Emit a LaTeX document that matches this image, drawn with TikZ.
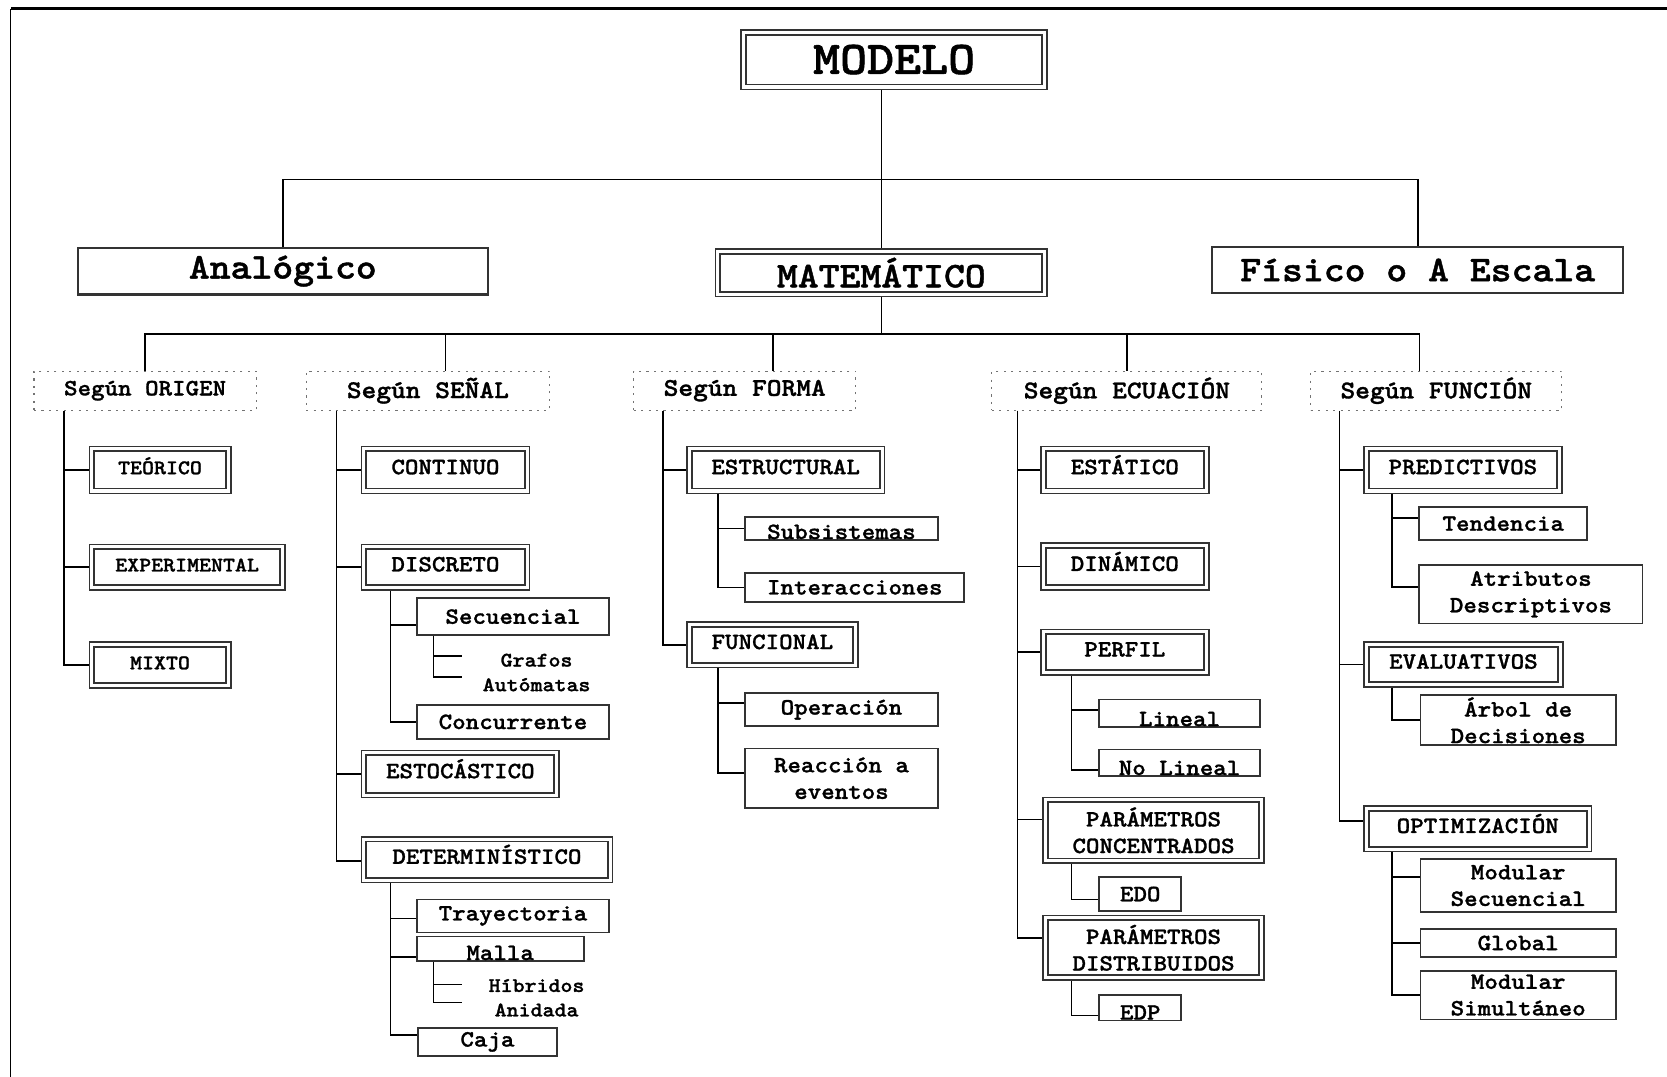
\documentclass[tikz,border=0pt]{standalone}
\usepackage{fontspec}
\newfontfamily\cour{lmmonolt10-bold.otf}[FakeStretch=1.1,FakeBold=1.2]
\usepackage{tikz}
\usetikzlibrary{positioning,calc}

\begin{document}
\begin{tikzpicture}[x=1pt,y=-1pt]
  \tikzset{
    % double frame: outer line and an inner line drawn as path picture
    dbox/.style={draw=black!80, line width=1.5pt, inner sep=0pt,
      path picture={\draw[line width=1.8pt]
        ([shift={(4.5pt,4.5pt)}]path picture bounding box.south west) rectangle
        ([shift={(-4.5pt,-4.5pt)}]path picture bounding box.north east);}},
    sbox/.style={draw=black!80, line width=1.6pt, inner sep=0pt},
    tbox/.style={draw=black!55, line width=1pt, dash pattern=on 2pt off 5pt, inner sep=0pt},
    sz/.style 2 args={minimum width=#1, minimum height=#2},
    caps/.style={text height=8pt, text depth=0pt},
    cut/.style={text height=#1, text depth=0pt},
    two/.style={align=center},
    link/.style={line width=1.5pt},
    ftop/.style={font=\cour\fontsize{44}{48}\selectfont},
    fmid/.style={font=\cour\fontsize{34}{38}\selectfont},
    fhead/.style={font=\cour\fontsize{24}{28}\selectfont},
    fcap/.style={font=\cour\fontsize{22}{25}\selectfont},
    fsm/.style={font=\cour\fontsize{19.5}{23}\selectfont},
    leaf/.style={fsm, anchor=west, inner sep=0pt, text width=139pt, align=center},
  }
  \useasboundingbox (0,0) rectangle (1568,1013);

  % frame of the page
  \draw[line width=2.5pt] (1568,8) -- (10,8);
  \draw[line width=1.5pt] (10,8) -- (10,1013);

  % first level
  \node[dbox, sz={288}{56}, ftop] (modelo) at (841,56) {MODELO};
  \node[sbox, sz={386}{44}, fmid, line width=2pt] (analog) at (266,255) {Analógico};
  \node[dbox, sz={312}{45}, fmid] (matem) at (829,256.5) {MATEMÁTICO};
  \node[sbox, sz={387}{44}, fmid, line width=2pt] (fisico) at (1333.5,254) {Físico o A Escala};

  \coordinate (bar1) at (829,169);
  \draw[link] (modelo.south -| matem) -- (matem.north);
  \draw[link] (analog.north) |- (bar1) -| (fisico.north);

  % the five ways to split the mathematical model
  \node[tbox, sz={209}{37}, fcap] (origen) at (136.5,367.5) {Según ORIGEN};
  \node[tbox, sz={229}{37}, fhead] (senal) at (402.5,367.5) {Según SEÑAL};
  \node[tbox, sz={209}{37}, fhead] (forma) at (700.5,367.5) {Según FORMA};
  \node[tbox, sz={254}{37}, fhead] (ecuac) at (1060,367.5) {Según ECUACIÓN};
  \node[tbox, sz={236}{37}, fhead] (funcion) at (1351,367.5) {Según FUNCIÓN};

  \coordinate (bar2) at (829,314);
  \draw[link] (matem.south) -- (bar2);
  \draw[link] (origen.north) |- (bar2);
  \draw[link] ([xshift=16.5pt]senal.north) |- (bar2);
  \draw[link] ([xshift=26.5pt]forma.north) |- (bar2);
  \draw[link] (ecuac.north) |- (bar2);
  \draw[link] ([xshift=-16pt]funcion.north) |- (bar2);

  % ORIGEN
  \node[dbox, sz={133}{44}, fsm, caps] (teorico) at (150.5,442) {TEÓRICO};
  \node[dbox, sz={184}{43}, fsm, caps] (experim) at (176,533.5) {EXPERIMENTAL};
  \node[dbox, sz={133}{43}, fsm, caps] (mixto) at (150.5,625.5) {MIXTO};
  \foreach \c in {teorico,experim,mixto}
    \draw[link] ([xshift=28.5pt]origen.south west) |- (\c.west);

  % SEÑAL
  \node[dbox, sz={158}{44}, fcap, caps] (continuo) at (419,442) {CONTINUO};
  \node[dbox, sz={158}{43}, fcap, caps] (discreto) at (419,533.5) {DISCRETO};
  \node[sbox, sz={181}{35}, fcap] (secuen) at (482.5,580) {Secuencial};
  \node[leaf] (grafos) at (435,621) {Grafos};
  \node[leaf] (automatas) at (435,644) {Autómatas};
  \node[sbox, sz={181}{32}, fcap] (concurr) at (482.5,679) {Concurrente};
  \node[dbox, sz={186}{44}, fcap, caps] (estoc) at (433,728) {ESTOCÁSTICO};
  \node[dbox, sz={236}{43}, fcap, caps] (determ) at (458,808.5) {DETERMINÍSTICO};
  \node[sbox, sz={181}{31}, fcap] (trayec) at (482.5,861.5) {Trayectoria};
  \node[sbox, sz={157}{23}, fcap, cut=21pt] (malla) at (470.5,892.5) {Malla};
  \node[leaf] (hibridos) at (435,927) {Híbridos};
  \node[leaf] (anidada) at (435,950) {Anidada};
  \node[sbox, sz={131}{26}, fcap] (caja) at (458.5,980) {Caja};

  \foreach \c/\s in {continuo/0,discreto/0,estoc/0,determ/-1.5}
    \draw[link] ([xshift=29pt]senal.south west) |- ([yshift=\s pt]\c.west);
  \foreach \c/\s in {secuen/-8,concurr/0}
    \draw[link] ([xshift=28pt]discreto.south west) |- ([yshift=\s pt]\c.west);
  \foreach \c/\s in {grafos/4,automatas/7}
    \draw[link] ([xshift=16.5pt]secuen.south west) |- ([yshift=\s pt]\c.west);
  \foreach \c/\s in {trayec/-2.5,malla/-7.5,caja/6.5}
    \draw[link] ([xshift=28pt]determ.south west) |- ([yshift=\s pt]\c.west);
  \foreach \c/\s in {hibridos/1,anidada/7}
    \draw[link] ([xshift=16.5pt]malla.south west) |- ([yshift=\s pt]\c.west);

  % FORMA
  \node[dbox, sz={186}{44}, fcap, caps] (estruct) at (739,442) {ESTRUCTURAL};
  \node[sbox, sz={181}{22}, fcap, cut=20pt] (subsis) at (791.5,497) {Subsistemas};
  \node[sbox, sz={206}{27}, fcap] (interac) at (804,552.5) {Interacciones};
  \node[dbox, sz={161}{43}, fcap, caps] (funcional) at (726.5,606.5) {FUNCIONAL};
  \node[sbox, sz={181}{31}, fcap] (operac) at (791.5,667.5) {Operación};
  \node[sbox, sz={181}{56}, fcap, two] (reacc) at (791.5,732) {Reacción a\\eventos};

  \foreach \c in {estruct,funcional}
    \draw[link] ([xshift=28pt]forma.south west) |- (\c.west);
  \foreach \c in {subsis,interac}
    \draw[link] ([xshift=30pt]estruct.south west) |- (\c.west);
  \foreach \c/\s in {operac/6.5,reacc/5}
    \draw[link] ([xshift=30pt]funcional.south west) |- ([yshift=\s pt]\c.west);

  % ECUACION
  \node[dbox, sz={158}{44}, fcap, caps] (estat) at (1058,442) {ESTÁTICO};
  \node[dbox, sz={158}{44}, fcap, caps] (dinam) at (1058,533) {DINÁMICO};
  \node[dbox, sz={158}{43}, fcap, caps] (perfil) at (1058,613.5) {PERFIL};
  \node[sbox, sz={151}{26}, fcap, cut=24pt] (lineal) at (1109.5,671) {Lineal};
  \node[sbox, sz={151}{25}, fcap, cut=23pt] (nolineal) at (1109.5,717.5) {No Lineal};
  \node[dbox, sz={208}{62}, fcap, two] (pconc) at (1085,781) {PARÁMETROS\\CONCENTRADOS};
  \node[sbox, sz={77}{32}, fcap] (edo) at (1072.5,841) {EDO};
  \node[dbox, sz={208}{61}, fcap, two] (pdist) at (1085,891.5) {PARÁMETROS\\DISTRIBUIDOS};
  \node[sbox, sz={77}{24}, fcap, cut=22pt] (edp) at (1072.5,948) {EDP};

  \foreach \c/\s in {estat/0,dinam/0,perfil/0,pconc/10,pdist/9.5}
    \draw[link] ([xshift=24.5pt]ecuac.south west) |- ([yshift=\s pt]\c.west);
  \foreach \c/\s in {lineal/3,nolineal/-6.5}
    \draw[link] ([xshift=29.5pt]perfil.south west) |- ([yshift=\s pt]\c.west);
  \draw[link] ([xshift=27.5pt]pconc.south west) |- ([yshift=-5pt]edo.west);
  \draw[link] ([xshift=27.5pt]pdist.south west) |- ([yshift=-7pt]edp.west);

  % FUNCION
  \node[dbox, sz={186}{44}, fcap, caps] (predic) at (1376,442) {PREDICTIVOS};
  \node[sbox, sz={158}{31}, fcap] (tenden) at (1414,492.5) {Tendencia};
  \node[sbox, sz={210}{55}, fcap, two] (atrib) at (1440,559) {Atributos\\Descriptivos};
  \node[dbox, sz={187}{42}, fcap, caps] (evalua) at (1376.5,625) {EVALUATIVOS};
  \node[sbox, sz={184}{47}, fcap, two] (arbol) at (1428,677.5) {Árbol de\\Decisiones};
  \node[dbox, sz={214}{43}, fcap, caps] (optim) at (1390,779.5) {OPTIMIZACIÓN};
  \node[sbox, sz={184}{50}, fcap, two] (modsec) at (1428,833) {Modular\\Secuencial};
  \node[sbox, sz={184}{26}, fcap] (global) at (1428,887) {Global};
  \node[sbox, sz={184}{46}, fcap, two] (modsim) at (1428,936) {Modular\\Simultáneo};

  \foreach \c/\s in {predic/0,evalua/0,optim/7.5}
    \draw[link] ([xshift=27.5pt]funcion.south west) |- ([yshift=\s pt]\c.west);
  \foreach \c/\s in {tenden/5.5,atrib/7}
    \draw[link] ([xshift=27pt]predic.south west) |- ([yshift=\s pt]\c.west);
  \draw[link] ([xshift=27pt]evalua.south west) |- (arbol.west);
  \foreach \c/\s in {modsec/8,global/0,modsim/0}
    \draw[link] ([xshift=27pt]optim.south west) |- ([yshift=\s pt]\c.west);
\end{tikzpicture}
\end{document}
